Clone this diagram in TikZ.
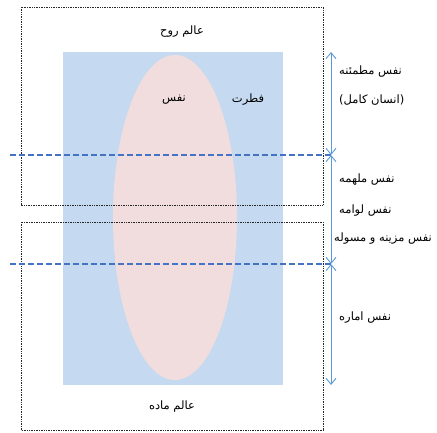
\documentclass[tikz,border=0pt]{standalone}
\usepackage{fontspec}
\newfontfamily\arabicfont[Script=Arabic]{DejaVu Sans}
\TeXXeTstate=1
\usetikzlibrary{arrows.meta}

\definecolor{fitratblue}{RGB}{197,217,240}
\definecolor{nafspink}{RGB}{242,221,222}
\definecolor{lineblue}{RGB}{68,114,196}
\definecolor{arrowblue}{RGB}{91,155,213}

\begin{document}
\begin{tikzpicture}[x=1pt,y=1pt,
                   world/.style={draw=black!85,densely dotted,line width=0.7pt},
                   border/.style={draw=lineblue,line width=1.4pt,dash pattern=on 6pt off 3pt},
                   span/.style={draw=arrowblue,line width=0.9pt,{Straight Barb[length=6pt,width=10pt]}-{Straight Barb[length=6pt,width=10pt]}},
                   label/.style={font=\arabicfont\fontsize{11.5}{13}\selectfont,inner sep=0pt},
                   side/.style={label,anchor=west}]
\useasboundingbox (0,0) rectangle (437,432);
\fill[fitratblue] (63,47) rectangle (283,380);
\fill[nafspink] (175,214.5) ellipse (62 and 162.5);
\draw[world] (21,227) rectangle (323,425);
\draw[world] (21,2) rectangle (323,210);
\node[label] (ruh) at (182,400) {\beginR عالم روح\endR};
\node[label] (madde) at (172,25) {\beginR عالم ماده\endR};
\node[label] (nafs) at (174,332) {\beginR نفس\endR};
\node[label] (fitrat) at (248,332) {\beginR فطرت\endR};
% the two borders
\coordinate (b1l) at (10,277); \coordinate (b1r) at (331,277);
\coordinate (b2l) at (10,168); \coordinate (b2r) at (331,168);
\coordinate (top) at (331,380); \coordinate (bot) at (331,47);
\draw[border] (b1l) -- (b1r);
\draw[border] (b2l) -- (b2r);
\draw[span] (top) -- (b1r);
\draw[span] (b1r) -- (b2r);
\draw[span] (b2r) -- (bot);
\node[side] (mutmaenna) at (339,360) {\beginR نفس مطمئنه\endR};
\node[side] (kamel) at (339,332) {\beginR (انسان کامل)\endR};
\node[side] (mulhama) at (339,252) {\beginR نفس ملهمه\endR};
\node[side] (lawwama) at (339,221) {\beginR نفس لوامه\endR};
\node[side] (musawwala) at (334,193) {\beginR نفس مزینه و مسوله\endR};
\node[side] (ammara) at (339,114) {\beginR نفس اماره\endR};
\end{tikzpicture}
\end{document}
